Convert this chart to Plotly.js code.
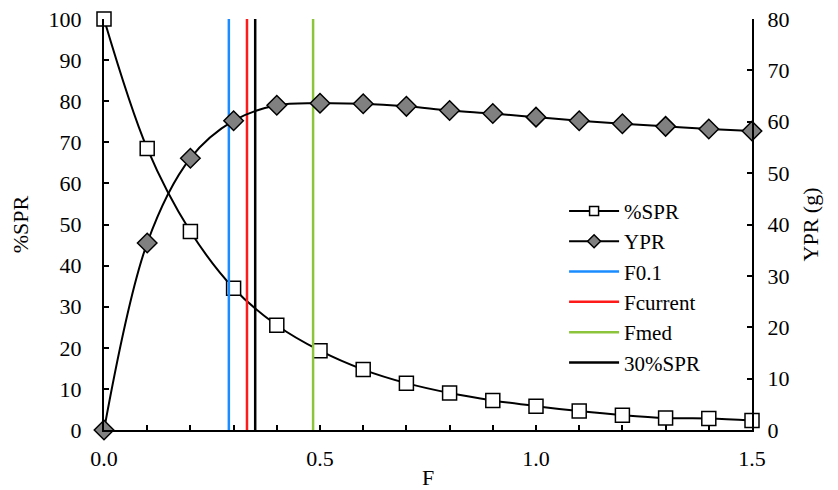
<!DOCTYPE html>
<html><head><meta charset="utf-8">
<script src="https://cdn.plot.ly/plotly-3.0.1.min.js"></script>
<style>body{margin:0;background:#fff}#c{width:838px;height:490px}</style>
</head><body><div id="c"></div>
<script>
const F = [0,0.1,0.2,0.3,0.4,0.5,0.6,0.7,0.8,0.9,1.0,1.1,1.2,1.3,1.4,1.5];
const SPR = [100,68.5,48.3,34.5,25.5,19.3,14.7,11.4,9.0,7.2,5.8,4.6,3.6,2.9,2.8,2.3];
const YPR = [0,36.4,52.9,60.2,63.2,63.6,63.5,63.0,62.2,61.6,60.9,60.2,59.6,59.1,58.6,58.2];
const refNames = ['F0.1','Fcurrent','Fmed','30%SPR'];
const refF = [0.289,0.331,0.484,0.35];
const refColors = ['#1a8cff','#ff1a1a','#8cc43c','#000000'];
const font = 'Liberation Serif, Times New Roman, serif';

const sprMarker = {symbol:'square',color:'#fff',line:{color:'#000',width:1.5}};
const yprMarker = {symbol:'diamond',color:'#808080',line:{color:'#000',width:1.5}};
const traces = [
  {x:F, y:SPR, name:'%SPR', legendgroup:'spr', showlegend:false, mode:'lines+markers', cliponaxis:false,
   line:{color:'#000',width:2,shape:'spline'}, marker:Object.assign({size:14},sprMarker)},
  {x:F, y:YPR, name:'YPR', legendgroup:'ypr', showlegend:false, yaxis:'y2', mode:'lines+markers', cliponaxis:false,
   line:{color:'#000',width:2,shape:'spline'}, marker:Object.assign({size:15},yprMarker)},
  // legend-only entries (no data) with the smaller legend symbols
  {x:[null], y:[null], name:'%SPR', legendgroup:'spr', mode:'lines+markers', line:{color:'#000',width:2}, marker:Object.assign({size:9},sprMarker)},
  {x:[null], y:[null], name:'YPR', legendgroup:'ypr', mode:'lines+markers', line:{color:'#000',width:2}, marker:Object.assign({size:10},yprMarker)}
];
refNames.forEach((n,i)=>{
  traces.push({x:[refF[i],refF[i]], y:[0,100], name:n, mode:'lines', line:{color:refColors[i],width:2.5}, hoverinfo:'skip'});
});

const layout = {
  width:838, height:490,
  margin:{l:104,r:86,t:19,b:60},
  paper_bgcolor:'#fff', plot_bgcolor:'#fff',
  font:{family:font,size:22,color:'#000'},
  showlegend:true,
  legend:{x:0.71,y:0.582,xanchor:'left',yanchor:'top',bgcolor:'rgba(0,0,0,0)',font:{family:font,size:21},tracegroupgap:0,itemwidth:50},
  xaxis:{range:[0,1.5],tickvals:[0,0.5,1.0,1.5],ticktext:['0.0','0.5','1.0','1.5'],ticks:'inside',ticklen:5,tickwidth:2,tickcolor:'#000',
    ticklabelstandoff:8,
    minor:{dtick:0.1,tick0:0,ticks:'inside',ticklen:5,tickwidth:2,tickcolor:'#000'},
    showline:true,linecolor:'#000',linewidth:2,showgrid:false,zeroline:false,
    title:{text:'F',font:{family:font,size:22},standoff:0}},
  yaxis:{range:[0,100],dtick:10,ticks:'inside',ticklen:5,tickwidth:2,tickcolor:'#000',showline:true,linecolor:'#000',linewidth:2,
    ticklabelstandoff:16,
    showgrid:false,zeroline:false,title:{text:'%SPR',font:{family:font,size:22},standoff:14}},
  yaxis2:{range:[0,80],dtick:10,overlaying:'y',side:'right',ticks:'inside',ticklen:5,tickwidth:2,tickcolor:'#000',showline:true,linecolor:'#000',linewidth:2,
    ticklabelstandoff:9,
    showgrid:false,zeroline:false,title:{text:'YPR (g)',font:{family:font,size:22},standoff:14}}
};
Plotly.newPlot('c', traces, layout, {displayModeBar:false,staticPlot:true});
</script></body></html>
